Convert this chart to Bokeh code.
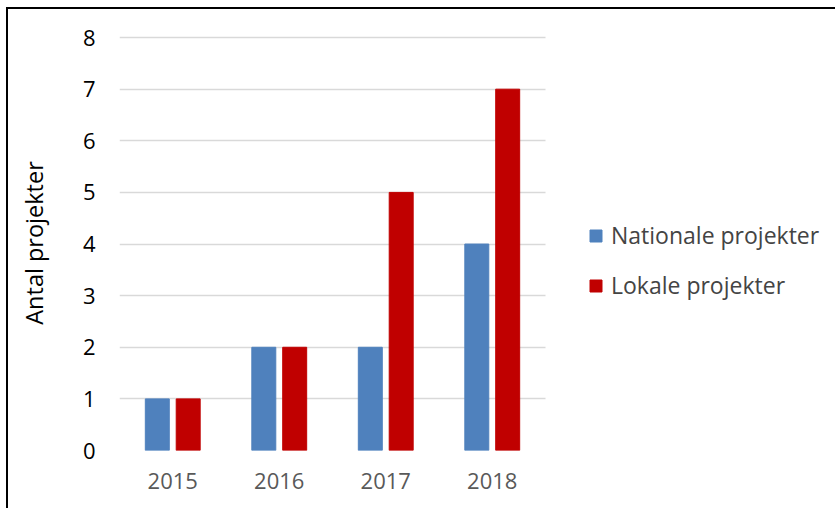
from bokeh.plotting import figure
from bokeh.models import ColumnDataSource, Legend, LegendItem, FixedTicker
from bokeh.transform import dodge
from bokeh.embed import file_html
from bokeh.resources import INLINE

years = ["2015", "2016", "2017", "2018"]
nationale = [1, 2, 2, 4]
lokale = [1, 2, 5, 7]
y_ticks = [0, 1, 2, 3, 4, 5, 6, 7, 8]

n = len(years)
centers = [i + 0.5 for i in range(n)]
source = ColumnDataSource(data=dict(x=centers, nationale=nationale, lokale=lokale))

FONT = "Open Sans"

W, H = 829, 501
LEFT, RIGHT, TOP, BOTTOM = 111, 5, 26, 60
frame_w = W - LEFT - RIGHT
cat_px = 426 / n  # pixel width of one category in the reference
x_end = frame_w / cat_px

p = figure(x_range=(0, x_end), y_range=(0, 8.04), width=W, height=H,
           output_backend="svg", toolbar_location=None,
           min_border_left=LEFT, min_border_right=RIGHT,
           min_border_top=TOP, min_border_bottom=BOTTOM)
p.styles = {"margin-left": "6px", "margin-top": "7px",
            "border-left": "2px solid black", "border-top": "2px solid black"}

r1 = p.vbar(x=dodge("x", -0.145), top="nationale", width=0.225, source=source,
            fill_color="#4f81bd", line_color="#4f81bd")
r2 = p.vbar(x=dodge("x", 0.145), top="lokale", width=0.225, source=source,
            fill_color="#c00000", line_color="#c00000")

p.outline_line_color = None
p.background_fill_color = "white"
p.border_fill_color = "white"

p.xgrid.grid_line_color = None
p.ygrid.grid_line_color = "#d9d9d9"
p.ygrid.grid_line_width = 1.5
p.ygrid.cross_bounds = (0, n)
p.yaxis.ticker = y_ticks
p.xaxis.ticker = FixedTicker(ticks=centers)
p.xaxis.major_label_overrides = {c: y for c, y in zip(centers, years)}

for ax in (p.xaxis, p.yaxis):
    ax.axis_line_color = None
    ax.major_tick_line_color = None
    ax.minor_tick_line_color = None
    ax.major_label_text_font = FONT
    ax.major_label_text_font_size = "22px"

p.yaxis.major_label_text_color = "black"
p.xaxis.major_label_text_color = "#595959"
p.yaxis.major_label_standoff = 18
p.xaxis.major_label_standoff = 16

p.yaxis.axis_label = "Antal projekter"
p.yaxis.axis_label_text_font = FONT
p.yaxis.axis_label_text_font_size = "23.5px"
p.yaxis.axis_label_text_font_style = "normal"
p.yaxis.axis_label_text_color = "black"
p.yaxis.axis_label_standoff = 30

legend = Legend(items=[LegendItem(label="Nationale projekter", renderers=[r1]),
                       LegendItem(label="Lokale projekter", renderers=[r2])],
                location=(469, 149), orientation="vertical",
                border_line_color=None, background_fill_alpha=0,
                glyph_width=15, glyph_height=15, label_height=26,
                label_text_font=FONT, label_text_font_size="23px",
                label_standoff=8, spacing=18, padding=0, margin=0)
p.add_layout(legend, "center")

open("out.html", "w").write(file_html(p, INLINE))
